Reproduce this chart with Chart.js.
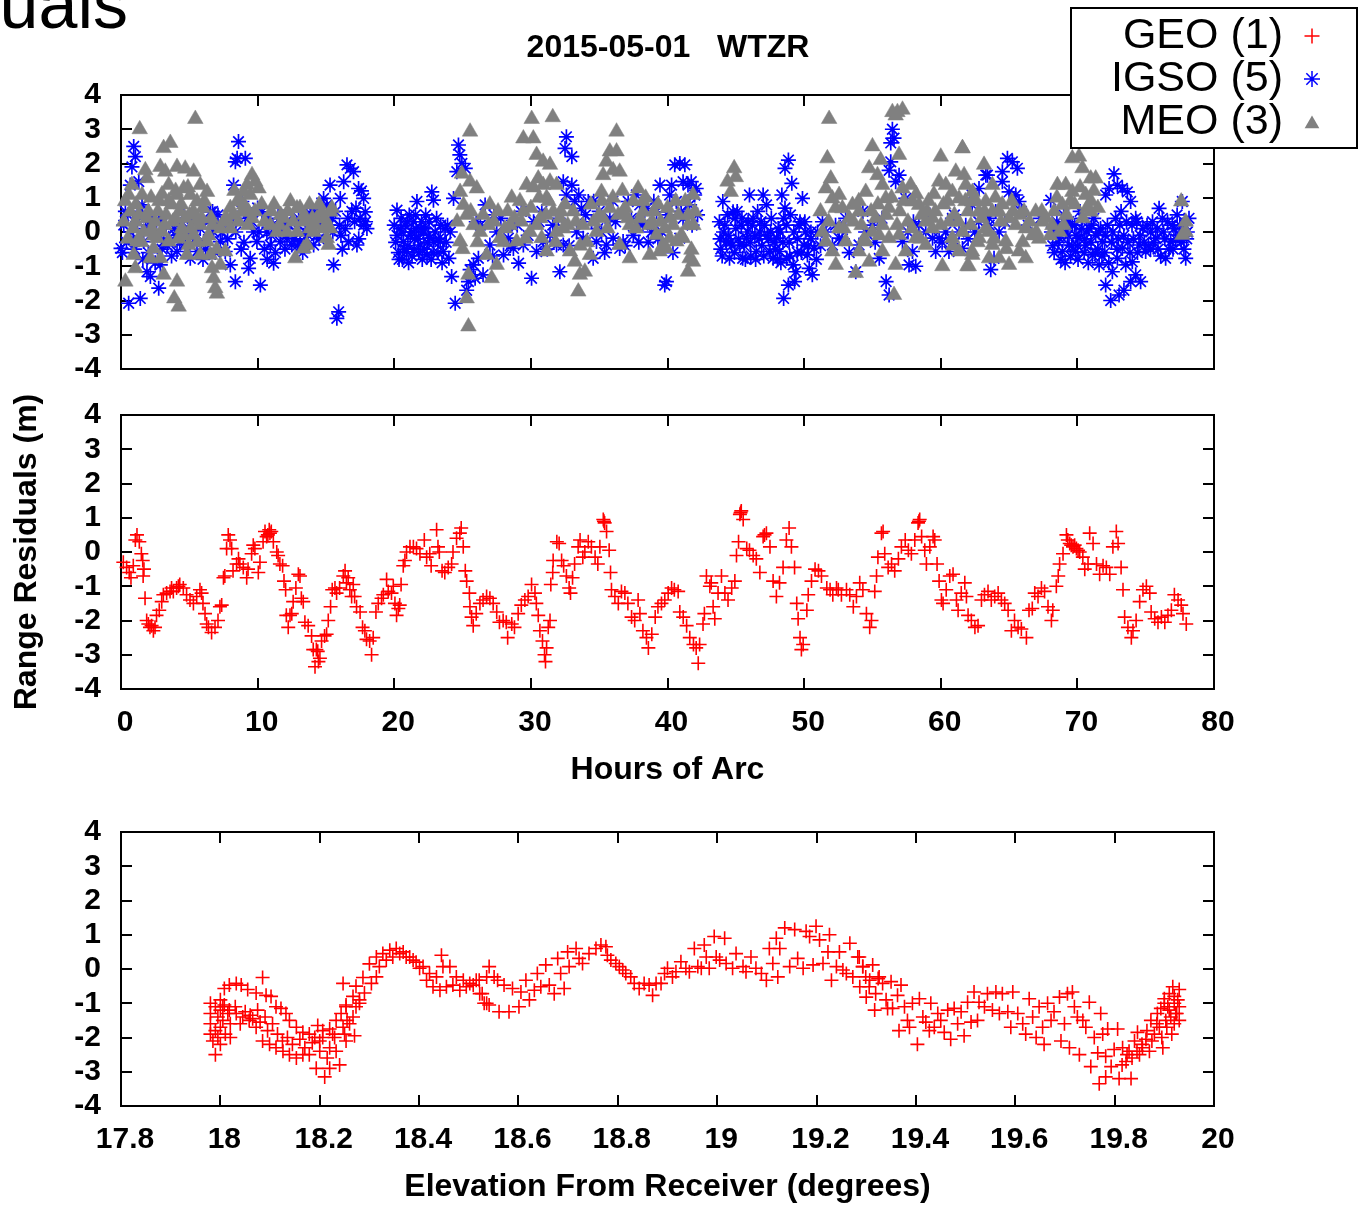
<!DOCTYPE html>
<html>
<head>
<meta charset="utf-8">
<title>Range Residuals - WTZR</title>
<script src="https://cdn.jsdelivr.net/npm/chart.js@4.4.1/dist/chart.umd.min.js"></script>
<style>
  html, body { margin: 0; padding: 0; background: #fff; }
  #wrap { position: relative; width: 1366px; height: 1207px; overflow: hidden; }
  #wrap canvas { position: absolute; left: 0; top: 0; }
</style>
</head>
<body>
<div id="wrap">
  <canvas id="arcChart" width="1366" height="1207"></canvas>
  <canvas id="geoChart" width="1366" height="1207"></canvas>
  <canvas id="elevChart" width="1366" height="1207"></canvas>
</div>
<script>
// ---- data: [hours of arc | elevation, range residual (m)] ----

const titleText = '2015-05-01   WTZR';
const seriesNames = ['GEO (1)', 'IGSO (5)', 'MEO (3)'];

const residualTicks = [-4, -3, -2, -1, 0, 1, 2, 3, 4];
const hourTicks = [0, 10, 20, 30, 40, 50, 60, 70, 80];
const elevTicks = [17.8, 18, 18.2, 18.4, 18.6, 18.8, 19, 19.2, 19.4, 19.6, 19.8, 20];

// GEO residuals against hours of arc
const geoArc = [
  [0.17,-0.3],[0.41,-0.45],[0.6,-0.6],[0.73,-0.75],[0.9,-0.4],[1.05,0.35],[1.17,0.5],[1.34,0.3],[1.49,-0.05],[1.59,-0.25],
  [1.68,-0.5],[1.62,-0.7],[1.76,-1.35],[1.88,-2.0],[2.0,-2.1],[2.12,-2.2],[2.24,-2.15],[2.37,-2.3],[2.49,-2.2],[2.6,-1.85],
  [2.8,-1.7],[2.98,-1.45],[3.1,-1.25],[3.34,-1.2],[3.59,-1.15],[3.83,-1.15],[4.07,-1.05],[4.3,-0.95],[4.56,-1.05],[4.8,-1.25],
  [5.05,-1.4],[5.3,-1.5],[5.54,-1.3],[5.78,-1.1],[5.9,-1.2],[6.0,-1.5],[6.15,-1.8],[6.27,-2.1],[6.4,-2.2],[6.63,-2.35],
  [6.88,-2.2],[7.1,-2.0],[7.24,-1.6],[7.37,-1.55],[7.5,-0.75],[7.6,-0.7],[7.73,0.1],[7.85,0.5],[7.98,0.35],[8.1,0.1],
  [8.2,-0.55],[8.46,-0.35],[8.6,-0.2],[8.7,-0.35],[8.95,-0.45],[9.2,-0.75],[9.3,-0.5],[9.56,-0.05],[9.68,0.2],[9.8,0.1],
  [10.05,-0.6],[10.17,-0.3],[10.4,0.3],[10.54,0.6],[10.66,0.45],[10.9,0.55],[11.0,0.6],[11.15,0.3],[11.4,0.0],[11.5,-0.1],
  [11.63,-0.35],[11.83,-0.4],[11.93,-0.85],[12.05,-1.1],[12.1,-1.85],[12.24,-2.2],[12.37,-1.85],[12.5,-1.8],[12.6,-1.45],[12.8,-1.05],
  [12.98,-0.65],[13.1,-0.7],[13.2,-1.35],[13.34,-1.45],[13.46,-2.05],[13.7,-2.15],[13.95,-2.45],[14.07,-2.85],[14.2,-3.35],[14.3,-2.85],
  [14.56,-3.1],[14.68,-2.6],[14.9,-2.45],[15.05,-2.4],[15.17,-2.0],[15.34,-1.6],[15.46,-1.1],[15.66,-1.05],[15.78,-1.2],[16.0,-1.05],
  [16.27,-0.7],[16.4,-0.55],[16.5,-0.9],[16.63,-0.75],[16.75,-1.1],[16.88,-1.3],[17.0,-0.95],[17.1,-1.3],[17.24,-1.6],[17.5,-1.75],
  [17.68,-2.2],[17.85,-2.3],[17.97,-2.55],[18.2,-2.6],[18.34,-3.0],[18.46,-2.5],[18.66,-1.75],[18.83,-1.5],[19.07,-1.35],[19.2,-1.25],
  [19.44,-0.8],[19.56,-1.15],[19.8,-1.2],[19.93,-1.0],[20.05,-1.5],[20.17,-1.85],[20.3,-1.65],[20.4,-1.55],[20.5,-0.95],[20.66,-0.4],
  [20.78,-0.25],[20.9,0.0],[21.15,0.15],[21.4,0.15],[21.63,0.1],[21.88,-0.05],[22.2,0.35],[22.37,-0.15],[22.6,-0.05],[22.7,-0.4],
  [23.1,0.65],[23.2,0.15],[23.3,0.0],[23.5,-0.55],[23.7,-0.6],[23.95,-0.45],[24.2,-0.35],[24.3,0.0],[24.56,0.4],[24.8,0.55],
  [24.9,0.7],[25.05,0.15],[25.2,-0.55],[25.3,-0.85],[25.5,-1.2],[25.54,-1.6],[25.66,-1.9],[25.78,-2.15],[26.0,-1.8],[26.27,-1.5],
  [26.5,-1.4],[26.76,-1.3],[27.0,-1.35],[27.24,-1.5],[27.5,-1.75],[27.7,-2.05],[27.97,-2.0],[28.2,-2.05],[28.3,-2.5],[28.6,-2.1],
  [28.8,-2.2],[29.07,-1.8],[29.3,-1.55],[29.56,-1.4],[29.8,-1.3],[30.05,-0.95],[30.3,-1.2],[30.4,-1.5],[30.54,-1.85],[30.66,-2.3],
  [30.85,-2.6],[31.0,-3.0],[31.07,-3.2],[31.15,-2.8],[31.27,-2.2],[31.4,-2.0],[31.46,-0.95],[31.6,-0.6],[31.63,-0.25],[31.9,0.3],
  [32.07,0.25],[32.25,-0.25],[32.4,-0.4],[32.6,-0.7],[32.8,-1.05],[32.9,-1.2],[33.05,-0.75],[33.2,-0.35],[33.46,0.15],[33.6,0.35],
  [33.8,-0.15],[33.95,0.0],[34.2,0.3],[34.43,0.15],[34.7,-0.15],[34.9,-0.35],[35.05,0.15],[35.3,0.95],[35.4,0.85],[35.54,0.6],
  [35.73,0.05],[35.83,-0.6],[35.9,-1.1],[36.15,-1.3],[36.4,-1.5],[36.63,-1.15],[36.88,-1.2],[37.1,-1.5],[37.37,-1.9],[37.6,-2.0],
  [37.85,-1.4],[37.98,-1.8],[38.2,-2.3],[38.46,-2.5],[38.6,-2.8],[38.85,-2.4],[39.1,-1.9],[39.3,-1.6],[39.56,-1.5],[39.8,-1.4],
  [40.05,-1.2],[40.3,-1.05],[40.5,-1.1],[40.78,-1.15],[40.9,-1.75],[41.15,-1.9],[41.4,-2.15],[41.63,-2.5],[41.9,-2.7],[42.1,-2.8],
  [42.25,-3.25],[42.35,-2.7],[42.6,-2.1],[42.7,-1.8],[42.85,-0.7],[43.1,-1.0],[43.2,-0.9],[43.34,-1.6],[43.46,-1.95],[43.7,-1.2],
  [43.95,-0.7],[44.2,-1.2],[44.43,-1.4],[44.7,-1.05],[44.93,-0.85],[45.05,-0.1],[45.2,0.3],[45.3,1.1],[45.4,1.2],[45.54,0.95],
  [45.8,0.1],[46.0,0.05],[46.27,-0.1],[46.5,-0.2],[46.76,-0.6],[47.0,0.45],[47.24,0.55],[47.5,0.15],[47.73,-0.85],[47.97,-1.3],
  [48.2,-0.9],[48.46,-0.45],[48.7,0.35],[48.9,0.7],[49.07,0.15],[49.3,-0.45],[49.46,-1.5],[49.56,-1.95],[49.7,-2.5],[49.8,-2.85],
  [49.93,-2.7],[50.2,-1.7],[50.3,-1.25],[50.54,-0.85],[50.8,-0.5],[51.05,-0.55],[51.27,-0.7],[51.66,-1.05],[51.9,-1.1],[52.1,-1.25],
  [52.37,-1.05],[52.5,-1.1],[52.73,-1.25],[53.1,-1.1],[53.34,-1.25],[53.6,-1.6],[53.83,-1.3],[54.07,-0.9],[54.3,-1.1],[54.56,-1.8],
  [54.8,-2.2],[54.93,-2.0],[55.17,-1.15],[55.3,-0.7],[55.4,-0.15],[55.66,0.55],[55.78,0.6],[55.9,-0.05],[56.15,-0.45],[56.4,-0.35],
  [56.63,-0.55],[56.9,-0.2],[57.12,0.15],[57.4,0.35],[57.63,0.05],[57.85,-0.05],[58.1,0.35],[58.34,0.85],[58.46,0.95],[58.6,0.45],
  [58.83,0.05],[58.95,-0.35],[59.2,0.15],[59.44,0.45],[59.56,0.35],[59.73,-0.35],[59.88,-0.85],[60.05,-1.4],[60.17,-1.5],[60.4,-1.1],
  [60.66,-0.7],[60.9,-0.65],[61.15,-1.4],[61.27,-1.7],[61.5,-1.2],[61.76,-0.9],[61.88,-1.3],[62.0,-1.85],[62.24,-2.0],[62.5,-2.2],
  [62.73,-2.15],[62.98,-1.4],[63.2,-1.25],[63.46,-1.15],[63.7,-1.4],[63.95,-1.3],[64.2,-1.2],[64.44,-1.4],[64.68,-1.5],[64.93,-1.7],
  [65.17,-2.3],[65.4,-2.0],[65.66,-2.2],[65.9,-2.25],[66.27,-2.5],[66.46,-1.7],[66.7,-1.65],[66.88,-1.2],[67.12,-1.3],[67.37,-1.05],
  [67.6,-1.15],[67.85,-1.6],[68.1,-2.0],[68.2,-1.7],[68.46,-1.0],[68.6,-0.7],[68.7,-0.35],[68.95,-0.05],[69.2,0.5],[69.44,0.25],
  [69.68,0.15],[69.93,0.1],[70.17,0.0],[70.4,-0.15],[70.54,-0.5],[70.78,-0.35],[70.9,0.55],[71.15,0.25],[71.4,-0.35],[71.63,-0.65],
  [71.88,-0.4],[72.12,-0.45],[72.37,-0.65],[72.6,0.15],[72.85,0.6],[72.98,0.25],[73.2,-0.45],[73.34,-1.1],[73.46,-1.9],[73.7,-2.2],
  [73.95,-2.5],[74.07,-2.3],[74.3,-2.0],[74.56,-1.45],[74.8,-1.1],[75.05,-1.0],[75.3,-1.2],[75.4,-1.75],[75.66,-1.95],[75.9,-2.05],
  [76.15,-1.9],[76.4,-2.05],[76.63,-1.85],[76.88,-1.7],[77.1,-1.25],[77.37,-1.4],[77.6,-1.55],[77.73,-1.8],[77.97,-2.1],
  [3.7,-1.05],[4.2,-1.0],[10.75,0.5],[10.85,0.65],[14.4,-2.9],[14.45,-3.2],[35.35,0.9],[45.35,1.15],[47.1,0.5],[58.4,0.9],
  [69.3,0.35],[69.55,0.2],[69.8,0.2],[70.05,0.05]
];

// GEO residuals against elevation (degrees)
const geoElev = [
  [17.98,-1.0],[17.98,-1.3],[17.98,-1.6],[17.98,-1.9],[17.985,-2.1],[17.99,-2.5],[17.99,-1.1],[17.99,-1.8],[17.995,-1.4],[17.995,-2.0],
  [18.0,-0.9],[18.0,-1.2],[18.0,-1.7],[18.0,-2.2],[18.005,-1.5],[18.008,-1.05],[18.01,-1.9],[18.015,-1.3],[18.02,-1.6],[18.02,-2.0],
  [18.008,-0.57],[18.018,-0.47],[18.032,-0.42],[18.042,-0.47],[18.055,-0.6],[18.072,-0.7],[18.085,-0.25],[18.092,-0.77],[18.102,-0.8],[18.112,-1.1],
  [18.122,-1.15],[18.132,-1.3],[18.139,-1.5],[18.153,-1.7],[18.166,-1.85],[18.179,-1.9],[18.196,-1.65],[18.206,-1.8],[18.22,-1.75],[18.233,-1.5],
  [18.243,-1.3],[18.253,-1.1],[18.267,-0.8],[18.273,-0.5],[18.287,-0.25],[18.3,0.15],[18.314,0.35],[18.327,0.45],[18.341,0.55],[18.354,0.6],
  [18.368,0.5],[18.381,0.35],[18.394,0.2],[18.408,0.07],[18.421,-0.13],[18.435,-0.23],[18.448,0.07],[18.445,0.4],[18.462,0.07],[18.475,-0.23],
  [18.489,-0.33],[18.502,-0.42],[18.515,-0.33],[18.536,-0.23],
  [18.005,-1.1],[18.018,-1.2],[18.032,-1.3],[18.045,-1.4],[18.058,-1.5],[18.072,-1.7],[18.085,-2.1],[18.099,-2.2],[18.112,-2.3],[18.126,-2.4],
  [18.139,-2.5],[18.153,-2.6],[18.166,-2.5],[18.179,-2.5],[18.193,-2.9],[18.21,-3.15],[18.22,-2.9],[18.24,-2.8],[18.233,-2.4],[18.22,-2.3],
  [18.206,-2.0],[18.2,-2.1],[18.226,-1.9],[18.247,-1.7],[18.253,-2.1],[18.27,-1.95],[18.26,-1.6],[18.267,-1.4],[18.273,-1.1],[18.28,-0.9],
  [18.29,-0.7],[18.304,-0.42],[18.314,-0.23],[18.32,0.07],[18.334,0.26],[18.347,0.35],[18.361,0.45],[18.374,0.35],[18.388,0.26],[18.401,0.02],
  [18.415,-0.33],[18.428,-0.52],[18.442,-0.62],[18.455,-0.52],[18.468,-0.47],[18.482,-0.62],[18.495,-0.52],[18.509,-0.47],[18.522,-0.72],[18.536,-1.0],
  [18.247,-0.42],[18.253,-1.05],[18.28,-1.0],
  [18.03,-1.1],[18.04,-1.6],[18.05,-1.25],[18.06,-1.35],[18.065,-1.45],[18.075,-1.2],[18.08,-1.55],[18.09,-1.4],[18.095,-1.8],[18.105,-1.6],
  [18.115,-1.9],[18.125,-2.1],[18.135,-2.0],[18.145,-2.2],[18.16,-2.05],[18.17,-2.3],[18.185,-2.15],[18.19,-2.0],[18.2,-2.4],[18.215,-2.6],
  [18.23,-2.0],[18.25,-1.9],[18.255,-1.5],
  [18.521,-0.33],[18.527,-0.72],[18.531,-1.0],[18.541,0.07],[18.541,-1.05],[18.551,-0.23],[18.558,-0.33],[18.561,-1.25],[18.571,-0.47],[18.581,-1.25],
  [18.588,-0.57],[18.601,-1.1],[18.605,-0.67],[18.615,-0.33],[18.622,-0.9],[18.632,-0.62],[18.638,-0.13],[18.645,-0.52],[18.655,0.12],[18.662,-0.47],
  [18.672,-0.72],[18.679,0.31],[18.685,-0.13],[18.692,-0.57],[18.699,0.5],[18.702,0.07],[18.716,0.6],[18.722,0.31],[18.729,0.16],[18.742,0.45],
  [18.756,0.6],[18.766,0.7],[18.776,0.65],[18.779,0.4],[18.786,0.26],[18.796,0.16],[18.803,0.07],[18.81,-0.03],[18.816,-0.13],[18.826,-0.23],
  [18.833,-0.42],[18.843,-0.57],[18.853,-0.42],[18.863,-0.47],[18.87,-0.77],[18.877,-0.42],[18.887,-0.42],[18.894,-0.13],[18.9,0.02],[18.91,-0.23],
  [18.917,-0.08],[18.927,0.21],[18.937,0.02],[18.944,-0.08],[18.954,0.6],[18.961,0.07],[18.968,0.02],[18.974,0.7],[18.978,0.35],[18.984,0.02],
  [18.994,0.95],[18.998,0.35],[19.005,0.26],[19.015,0.9],[19.018,0.16],[19.031,0.02],[19.038,0.45],[19.052,0.07],[19.058,-0.08],[19.068,0.35],
  [19.078,0.02],[19.089,-0.13],[19.099,-0.33],[19.105,0.6],[19.112,0.16],[19.119,0.9],[19.122,-0.23],[19.126,0.6],[19.136,1.2],[19.146,0.07],
  [19.156,1.15],[19.162,0.31],[19.173,0.02],[19.179,1.1],[19.186,0.95],[19.193,0.12],[19.199,1.25],[19.206,0.85],[19.213,0.16],[19.223,0.5],
  [19.226,1.0],[19.23,-0.33],[19.24,0.07],[19.246,0.5],[19.253,-0.03],[19.26,-0.13],[19.267,0.75],[19.273,-0.23],[19.283,0.35],[19.287,-0.52],
  [19.293,0.07],[19.3,-0.82],[19.307,-0.33],[19.317,-1.2],[19.324,-0.28],
  [19.286,0.35],[19.293,0.07],[19.299,-0.23],[19.306,-0.52],[19.313,0.12],[19.319,-0.72],[19.326,-0.23],[19.333,-0.42],[19.34,-0.9],[19.343,-1.15],
  [19.35,-0.37],[19.353,-1.15],[19.363,-0.77],[19.37,-0.47],[19.366,-1.8],[19.377,-1.1],[19.383,-1.5],[19.387,-1.7],[19.393,-1.0],[19.403,-2.2],
  [19.407,-0.87],[19.414,-1.4],[19.42,-1.55],[19.427,-1.8],[19.43,-1.0],[19.437,-1.7],[19.444,-1.3],[19.45,-1.5],[19.457,-1.85],[19.464,-1.2],
  [19.47,-2.05],[19.477,-1.15],[19.484,-1.6],[19.491,-1.25],[19.497,-1.95],[19.504,-0.97],[19.511,-1.55],[19.517,-0.67],[19.524,-1.5],[19.527,-0.97],
  [19.538,-1.1],[19.544,-0.72],[19.554,-1.2],[19.561,-0.67],[19.568,-1.3],[19.574,-0.72],[19.585,-1.25],[19.591,-1.7],[19.595,-0.67],[19.605,-1.3],
  [19.615,-1.6],[19.621,-1.9],[19.628,-0.87],[19.635,-1.4],[19.642,-2.0],[19.648,-1.1],[19.655,-1.7],[19.658,-2.2],[19.665,-1.0],[19.672,-1.5],
  [19.678,-1.25],[19.689,-0.82],[19.692,-2.1],[19.699,-1.6],[19.705,-0.72],[19.709,-2.3],[19.715,-0.67],[19.719,-1.1],[19.725,-1.4],[19.729,-2.5],
  [19.736,-1.5],[19.742,-1.7],[19.749,-0.97],[19.752,-2.85],[19.759,-2.0],[19.766,-2.45],[19.772,-1.3],[19.776,-1.9],[19.782,-2.55],[19.786,-1.75],
  [19.769,-3.35],[19.782,-3.15],[19.793,-2.85],[19.799,-2.35],[19.806,-1.75],[19.809,-3.2],[19.816,-2.3],[19.823,-2.7],[19.833,-3.2],[19.829,-2.4],
  [19.84,-2.1],[19.846,-1.85],[19.85,-2.5],[19.856,-2.3],[19.863,-2.05],[19.87,-2.4],[19.873,-1.5],[19.88,-1.9],[19.886,-1.3],[19.89,-1.7],
  [19.893,-1.15],[19.897,-2.3],[19.9,-0.87],[19.903,-1.5],[19.907,-1.1],[19.91,-0.72],[19.913,-1.4],[19.917,-0.52],[19.92,-1.0],[19.923,-1.3],
  [19.927,-0.9],[19.93,-1.5],
  [19.9,-1.0],[19.91,-1.2],[19.92,-0.8],[19.92,-1.6],[19.925,-1.3],[19.915,-1.9],[19.905,-1.7],[19.895,-2.0],[19.885,-1.6],[19.875,-2.1],
  [19.865,-1.8],[19.855,-2.2],[19.845,-2.4],[19.835,-2.6],[19.825,-2.5],[19.815,-2.8],[19.93,-1.1],[19.93,-0.6]
];

// IGSO residuals against hours of arc
const igsoArc = [
  [0.0,-0.48],[0.1,-0.6],[0.56,-2.08],[0.93,2.5],[1.05,2.2],[0.8,1.9],[1.3,1.47],[0.68,1.37],[0.32,0.6],[1.41,-1.94],
  [1.54,0.79],[1.66,-0.28],[1.9,-1.16],[2.15,-1.3],[2.76,-1.64],[2.88,-0.96],[3.12,-0.28],[3.5,-0.18],[4.1,-0.57],[4.46,0.3],
  [4.7,-0.38],[5.07,-0.77],[5.56,-0.57],[6.05,-0.28],[6.54,0.59],[6.78,0.0],[7.0,0.2],[7.27,-0.28],[7.63,-0.57],[8.0,-0.96],
  [8.37,-1.45],[8.24,1.37],[8.37,2.05],[8.6,2.64],[8.5,2.15],[8.85,0.89],[9.1,2.15],[9.22,0.4],[9.34,-1.06],[9.46,-0.77],
  [9.7,0.0],[9.95,-0.28],[10.2,-1.55],[10.32,0.59],[10.68,0.0],[10.93,-0.38],[11.17,-0.91],[11.41,0.2],[11.66,-0.28],[11.9,0.0],
  [12.15,-0.18],[12.5,-0.38],[12.88,0.1],[13.1,-0.28],[13.49,0.0],[13.85,0.3],[14.1,-0.38],[14.34,0.59],[14.59,0.2],[14.83,0.98],
  [15.07,0.79],[15.3,1.37],[15.44,0.4],[15.56,-0.96],[15.8,-2.52],[15.93,-2.33],[16.05,0.98],[16.3,1.47],[16.42,0.1],[16.54,1.96],
  [16.66,-0.28],[16.78,1.86],[17.02,1.76],[17.27,-0.38],[17.39,1.27],[17.5,0.4],[17.76,0.98],[17.88,0.59],[18.0,0.1],[17.76,0.2],
  [0.2,0.2],[0.4,-0.3],[0.7,0.0],[1.0,-0.5],[1.2,0.3],[1.6,-0.8],[1.8,0.1],[2.0,-0.6],[2.3,0.4],[2.5,-0.9],
  [2.6,0.0],[3.0,-0.5],[3.3,0.2],[3.7,-0.7],[3.9,0.1],[4.3,-0.3],[4.9,0.0],[5.2,0.4],[5.4,-0.2],[5.8,0.1],
  [6.2,-0.5],[6.4,0.3],[6.9,-0.6],[7.1,0.5],[7.4,0.0],[7.8,-0.2],[8.1,0.3],[8.8,-0.5],[9.0,0.6],[9.6,0.3],
  [10.0,0.7],[10.5,-0.5],[10.8,0.4],[11.0,-0.1],[11.3,-0.6],[11.8,0.3],[12.0,-0.5],[12.3,0.2],[12.7,-0.2],[13.0,0.4],
  [13.3,-0.6],[13.7,-0.1],[14.0,0.6],[14.5,-0.2],[14.7,0.5],[15.2,0.2],[15.7,0.6],[16.0,0.2],[16.2,-0.5],[16.9,0.6],
  [17.1,0.3],[17.6,1.2],
  [0.5,0.5],[0.9,-0.2],[1.4,0.6],[2.1,0.2],[2.9,0.4],[3.4,-0.4],[4.0,-0.1],[4.6,0.5],[5.6,0.2],[6.0,-0.8],
  [6.7,0.6],[7.6,0.3],[8.4,0.0],[9.0,-0.3],[10.1,0.0],[10.7,-0.8],[11.5,0.5],[12.1,0.3],[12.9,-0.4],[13.6,0.5],
  [14.3,-0.1],[15.0,0.3],[15.5,0.0],[16.1,-0.1],[16.6,0.4],[17.2,0.7],[17.4,-0.2],[17.9,0.3],
  [20.2,0.64],[20.44,0.1],[20.68,-0.28],[20.9,-0.57],[21.17,-0.09],[21.4,0.3],[21.66,0.89],[21.9,-0.38],[22.14,0.0],[22.4,-0.67],
  [22.6,-0.18],[22.75,1.17],[22.87,0.93],[23.1,0.4],[23.36,-0.28],[23.6,-0.57],[23.72,0.1],[24.0,-0.77],[24.2,-1.3],[24.46,-2.08],
  [24.7,2.54],[24.8,2.25],[24.95,2.0],[24.58,1.76],[25.2,1.86],[24.34,0.98],[25.3,-1.7],[25.43,-1.45],[25.55,-1.1],[25.8,-0.96],
  [25.92,-1.35],[26.16,-0.77],[26.5,-1.25],[26.65,0.79],[27.0,-0.38],[27.5,0.0],[28.0,-0.67],[28.35,-0.18],[28.72,-0.48],[29.1,-0.91],
  [29.45,-0.38],[30.05,-1.35],[30.42,-0.57],[30.9,-0.28],[31.4,-0.09],[31.88,-0.38],[32.12,-1.16],[32.37,-0.38],[32.5,2.44],[32.6,2.78],
  [33.0,2.2],[32.37,1.47],[32.6,1.08],[33.0,1.37],[33.2,0.89],[33.5,1.08],[33.7,0.69],[33.35,0.0],[33.83,-0.18],[34.2,0.89],
  [34.44,0.3],[34.56,-0.77],[34.8,-0.28],[35.17,0.0],[35.53,-0.38],[35.78,0.4],[36.02,-0.18],[36.5,-0.48],[36.75,-0.28],[37.12,0.89],
  [37.36,0.4],[37.72,1.08],[37.97,0.79],[38.2,0.2],[38.46,0.69],[38.83,0.0],[39.2,0.59],[39.45,1.37],[39.8,-1.55],[39.92,-1.45],
  [40.3,1.37],[40.53,1.96],[40.9,2.0],[41.27,1.96],[41.14,1.47],[41.5,1.37],[41.74,1.47],[41.99,1.08],[42.1,1.27],[41.62,0.79],
  [40.65,0.89],[40.16,1.08],[40.9,-0.18],[41.14,0.4],
  [20.1,-0.3],[20.3,-0.6],[20.5,0.4],[20.6,-0.8],[20.8,0.2],[21.0,-0.4],[21.1,0.5],[21.3,-0.7],[21.5,-0.2],[21.6,0.1],
  [21.8,-0.6],[22.0,0.3],[22.2,-0.5],[22.3,0.5],[22.5,-0.1],[22.7,-0.8],[22.9,-0.3],[23.2,-0.6],[23.4,0.2],[23.8,-0.3],
  [24.1,0.0],[26.0,0.3],[27.2,-0.7],[27.8,0.4],[28.5,-0.4],[29.0,0.2],[29.8,-0.1],[30.6,0.3],[31.2,-0.5],[31.6,0.2],
  [32.8,-0.4],[34.0,0.5],[34.6,0.9],[35.0,0.6],[35.4,-0.6],[36.2,0.3],[36.9,-0.4],[37.5,-0.1],[38.0,0.3],[38.6,-0.3],
  [39.0,0.9],[39.6,0.0],[40.0,0.5],[41.0,0.6],[41.8,0.2],[42.2,0.5],
  [20.0,0.2],[20.2,-0.1],[20.35,-0.8],[20.55,0.0],[20.75,-0.5],[20.95,0.3],[21.05,-0.9],[21.25,0.0],[21.45,-0.5],[21.55,0.5],
  [21.75,-0.2],[21.95,0.1],[22.05,-0.8],[22.25,0.1],[22.45,-0.3],[22.55,0.3],[22.85,-0.6],[23.0,0.0],[23.25,-0.2],[23.5,-0.9],
  [23.9,0.2],[26.3,0.2],[27.3,0.5],[28.6,0.2],[29.3,0.6],[30.2,0.3],[30.8,0.6],[32.0,0.4],[34.9,0.1],[36.0,0.9],
  [37.9,-0.3],[39.3,-0.2],[40.4,-0.6],
  [43.8,0.3],[44.05,0.89],[44.3,-0.28],[44.54,-0.77],[44.8,0.59],[45.0,0.1],[45.3,-0.38],[45.5,-0.77],[45.78,-0.18],[46.0,1.08],
  [46.27,0.4],[46.5,-0.57],[46.76,0.0],[47.0,1.08],[47.25,0.79],[47.5,-0.57],[47.73,-0.77],[48.0,-0.18],[48.2,-0.57],[48.37,1.08],
  [48.5,0.4],[48.6,1.86],[48.85,2.1],[48.73,-0.77],[49.1,1.42],[49.2,-0.96],[48.5,-1.94],[48.85,-1.55],[49.3,-1.45],[49.4,-1.16],
  [49.63,0.2],[49.88,0.98],[50.0,-0.38],[50.24,-0.67],[50.37,-1.06],[50.6,-1.25],[50.73,-0.48],[50.98,0.0],[51.34,0.3],[51.6,0.0],
  [52.07,-0.38],[52.56,-0.18],[53.04,0.4],[53.78,-1.16],[54.02,-0.38],[54.5,0.0],[55.0,0.2],[55.5,-0.77],[56.0,-1.45],[56.22,-1.84],
  [56.34,2.6],[56.46,3.0],[56.58,2.74],[56.22,1.8],[56.34,2.05],[56.7,1.47],[56.95,1.66],[57.2,-0.28],[57.44,0.98],[57.68,-0.96],
  [57.93,-0.57],[58.17,-1.0],[58.4,0.2],[58.9,0.0],[59.4,-0.18],[59.63,-0.57],[59.88,-0.18],[60.37,0.0],[60.6,-0.57],[60.85,0.4],
  [61.34,0.0],[61.83,0.2],[62.3,0.79],[62.8,1.27],[63.3,1.66],[63.54,0.2],[63.66,-1.1],
  [43.9,-0.5],[44.1,0.0],[44.4,0.5],[44.6,-0.3],[44.9,-0.6],[45.1,0.6],[45.4,0.2],[45.6,-0.4],[45.9,0.3],[46.1,-0.7],
  [46.4,-0.1],[46.6,0.6],[46.9,-0.4],[47.1,0.2],[47.4,-0.2],[47.6,0.4],[47.9,-0.5],[48.1,0.1],[48.3,-0.9],[48.6,0.7],
  [48.9,-0.3],[49.0,0.5],[49.5,-0.6],[49.7,0.3],[50.1,0.0],[50.5,-0.2],[50.9,-0.8],[51.2,-0.4],[52.3,0.2],[53.3,-0.6],
  [55.2,-0.3],[58.0,0.3],[60.1,-0.3],[61.0,0.5],[62.0,-0.2],
  [43.85,-0.2],[44.0,-0.7],[44.2,0.2],[44.45,-0.1],[44.7,-0.4],[44.95,0.4],[45.2,-0.2],[45.45,0.4],[45.7,-0.8],[45.85,0.0],
  [46.05,-0.3],[46.2,0.2],[46.45,-0.8],[46.7,-0.2],[46.85,0.3],[47.05,-0.7],[47.3,-0.1],[47.55,0.0],[47.8,-0.3],[48.05,-0.8],
  [48.25,0.0],[48.45,-0.3],[48.7,0.2],[48.95,-0.7],[49.25,0.0],[49.5,-0.2],[49.8,-0.6],[50.05,0.3],[50.3,-0.4],[50.5,0.0],
  [52.8,-0.2],[54.3,0.6],[55.7,0.4],[57.6,0.0],[59.2,0.5],[60.8,-0.2],[62.5,0.0],[64.7,0.3],[65.9,0.6],[66.4,0.2],
  [67.3,0.4],
  [63.42,1.66],[64.51,1.76],[64.88,2.15],[65.24,2.05],[65.61,1.86],[64.51,1.47],[65.0,1.17],[65.49,1.08],[65.73,0.89],[62.29,1.08],
  [62.78,0.3],[63.54,0.4],[64.02,0.6],[64.27,0.0],[63.9,-0.77],[61.59,-0.48],
  [68.05,0.93],[68.41,0.1],[68.66,-0.18],[68.9,-0.57],[69.15,0.0],[69.39,-0.38],[69.63,0.2],[69.88,-0.57],[70.12,-0.18],[70.37,0.4],
  [70.61,-0.38],[70.85,0.1],[71.1,-0.67],[71.34,-0.09],[71.59,-0.96],[71.83,-0.28],[72.07,1.08],[72.32,1.27],[72.68,1.7],[72.93,1.37],
  [73.29,1.27],[73.66,1.17],[73.9,0.89],[74.27,0.4],[72.07,-1.55],[72.44,-2.0],[73.05,-1.84],[73.41,-1.7],[73.9,-1.45],[74.27,-1.25],
  [74.63,-1.45],[72.56,-1.16],[72.93,-0.77],[73.29,-0.48],[73.54,-0.96],[74.02,-0.87],[74.51,-0.38],[75.0,-0.57],[75.37,0.0],[75.73,-0.18],
  [75.98,0.69],[76.22,0.4],[76.46,-0.77],[76.83,-0.28],[77.07,0.1],[77.44,-0.09],[77.68,0.89],[77.93,-0.77],[78.05,0.0],[78.17,0.4],
  [68.2,-0.4],[68.5,0.3],[68.8,-0.8],[69.0,0.5],[69.3,-0.1],[69.5,-0.7],[69.8,0.2],[70.0,-0.4],[70.2,0.6],[70.5,-0.6],
  [70.7,0.0],[71.0,-0.3],[71.2,0.4],[71.5,-0.5],[71.7,0.1],[72.0,-0.6],[72.2,0.2],[72.5,-0.3],[72.8,0.4],[73.0,-0.2],
  [73.2,0.6],[73.7,-0.3],[74.0,0.2],[74.4,-0.6],[74.8,0.1],[75.2,-0.4],[75.5,0.3],[75.9,-0.5],[76.3,0.0],[76.6,0.3],
  [77.0,-0.5],[77.3,0.5],[77.6,-0.3],[77.9,0.2],
  [68.1,0.0],[68.3,-0.6],[68.6,-0.3],[68.85,0.2],[69.1,-0.9],[69.35,0.3],[69.6,-0.4],[69.9,-0.1],[70.05,-0.8],[70.3,0.1],
  [70.55,-0.2],[70.8,-0.9],[71.05,0.2],[71.3,-0.6],[71.55,0.0],[71.8,-0.7],[72.05,-0.1],[72.3,-0.9],[72.6,0.0],[72.9,-0.5],
  [73.1,0.2],[73.4,-0.1],[73.6,0.3],[73.85,-0.6],[74.1,-0.2],[74.35,0.3],[74.6,-0.1],[74.9,-0.3],[75.1,0.2],[75.35,-0.5],
  [75.6,-0.3],[75.85,0.1],[76.1,-0.7],[76.4,-0.2],[76.7,-0.5],[76.95,0.2],[77.2,-0.2],[77.5,0.2],[77.8,-0.5],[78.0,-0.2]
];

// MEO residuals against hours of arc
const meoArc = [
  [1.37,3.0],[5.44,3.3],[3.61,2.6],[3.12,2.45],[2.88,1.9],[4.1,1.9],[4.7,1.85],[5.32,1.76],[1.78,1.8],[1.9,1.57],
  [3.24,1.76],[5.8,1.37],[6.3,1.17],[3.49,1.37],[4.1,1.08],[4.59,1.27],[5.07,1.08],[5.56,0.89],[1.54,1.08],[0.8,1.37],
  [0.56,1.08],[0.68,0.59],[1.05,0.3],[1.66,0.0],[2.27,0.1],[2.63,-0.18],[3.0,0.0],[3.49,-0.28],[3.98,0.4],[4.46,0.1],
  [4.95,-0.38],[5.32,-0.09],[5.8,0.2],[6.3,-0.28],[6.54,-0.67],[6.66,-1.06],[6.78,-1.35],[6.9,-1.64],[7.02,-1.8],[7.27,-0.96],
  [7.63,-0.57],[8.0,0.1],[8.49,0.89],[8.98,1.17],[9.22,1.37],[9.59,1.66],[9.83,1.47],[10.07,1.27],[9.46,1.08],[8.85,0.59],
  [9.34,0.59],[1.17,-0.28],[0.93,-0.67],[0.32,-1.45],[1.05,-1.06],[3.12,-1.25],[2.88,-0.77],[4.1,-1.45],[3.9,-1.94],[4.22,-2.18],
  [2.39,-0.48],[2.15,-0.77],[4.83,-0.67],[5.8,-0.67],[12.4,0.89],[12.88,0.69],[13.37,0.3],[13.85,0.1],[14.34,0.4],[14.71,0.59],
  [15.07,0.2],[15.32,0.59],[15.44,0.69],[15.07,-0.18],[15.2,-0.38],[12.76,-0.77],[13.37,-0.48],[13.61,-0.38],[11.9,0.4],[11.41,0.0],
  [10.93,0.2],[12.15,0.0],[12.88,0.0],[14.1,0.0],[14.83,0.1],
  [0.2,0.3],[0.5,-0.2],[1.3,0.5],[2.0,0.6],[2.5,0.3],[2.8,0.9],[3.3,0.5],[3.7,0.8],[4.3,0.6],[4.6,-0.1],
  [5.0,0.5],[5.5,0.3],[6.0,0.7],[6.6,0.4],[7.5,0.3],[8.2,0.5],[8.7,0.9],[9.6,0.4],[10.3,0.8],[11.0,0.6],
  [11.7,0.5],[12.6,0.3],[13.1,0.7],[14.0,0.4],[14.5,0.8],
  [0.3,0.9],[0.9,0.1],[1.1,0.8],[1.5,-0.3],[1.9,0.4],[2.2,1.0],[2.4,-0.1],[2.7,0.6],[3.0,1.1],[3.2,0.2],
  [3.5,0.9],[3.8,0.3],[4.0,1.2],[4.2,-0.2],[4.4,0.8],[4.7,0.4],[4.9,1.3],[5.1,0.1],[5.3,0.6],[5.6,-0.3],
  [5.9,0.4],[6.1,0.9],[6.4,-0.1],[6.7,0.2],[7.0,-0.5],[7.3,0.1],[7.7,0.4],[8.0,0.7],[8.3,1.2],[8.6,0.3],
  [9.0,0.8],[9.3,0.2],[9.8,0.6],[10.5,0.3],[11.2,0.8],[11.6,0.2],[12.2,0.6],[13.4,0.5],[13.8,0.8],[14.2,0.2],
  [14.9,0.4],[15.3,0.1],
  [25.43,-2.76],[25.55,2.93],[24.95,1.7],[25.55,1.47],[26.04,1.27],[24.82,1.17],[25.07,0.79],[25.3,-1.94],[25.43,-1.25],[25.3,0.5],
  [25.8,0.2],[26.28,0.0],[24.82,-0.28],[26.77,-0.67],[27.13,-1.35],[27.5,-0.96],[27.74,-0.18],[28.1,0.1],[28.47,0.2],[28.96,-0.28],
  [29.45,0.59],[29.69,1.37],[30.06,3.3],[30.18,2.73],[29.45,2.73],[30.42,2.25],[30.9,2.05],[31.6,3.35],[31.4,1.96],[30.54,1.56],
  [30.9,1.37],[31.4,1.47],[31.88,1.37],[31.15,1.0],[31.64,0.59],[32.13,0.4],[29.94,0.0],[30.42,0.2],[30.79,-0.18],[31.15,-0.57],
  [31.88,0.0],[32.37,0.1],[32.86,-0.57],[33.22,-0.87],[33.59,-1.25],[33.47,-1.74],[33.95,-1.16],[34.32,-0.67],[34.8,0.0],[35.29,0.4],
  [35.78,0.69],[36.27,2.93],[35.78,2.35],[36.27,2.35],[35.53,2.05],[35.29,1.66],[36.02,1.8],[36.5,1.76],[35.17,1.17],[36.75,0.59],
  [37.24,0.2],[37.85,1.27],[38.21,0.59],[38.7,0.2],[39.19,-0.09],[39.67,-0.38],[40.16,-0.18],[40.65,-0.28],[41.14,-0.18],[41.62,-0.77],
  [41.75,-0.52],[41.87,-0.87],[41.5,-1.16],[41.5,0.2],[41.87,1.08],[42.0,0.59],[37.24,-0.77],[38.7,-0.67],[39.43,-0.57],[39.92,-0.48],
  [36.5,-0.38],
  [26.5,0.5],[27.0,0.8],[27.3,0.3],[28.3,0.6],[28.8,0.4],[29.2,0.9],[30.0,0.7],[30.6,1.0],[31.1,0.5],[32.5,0.8],
  [33.1,0.6],[33.8,0.2],[34.4,0.8],[35.0,0.5],[36.0,1.0],[36.9,0.7],[37.5,0.9],[38.0,0.4],[38.4,1.0],[39.0,0.6],
  [39.5,0.3],[40.0,0.7],[40.4,0.2],[40.8,0.5],[41.3,0.9],
  [24.6,0.3],[25.0,-0.5],[25.6,0.6],[26.1,-0.3],[26.9,0.2],[27.6,0.6],[28.0,-0.3],[28.6,1.0],[29.3,0.3],[29.6,-0.2],
  [30.2,1.3],[30.7,0.4],[31.3,0.9],[31.8,-0.3],[32.2,0.6],[32.7,0.2],[33.3,0.3],[33.6,-0.4],[34.1,-0.3],[34.6,0.3],
  [35.2,0.9],[35.6,0.1],[36.4,0.5],[36.7,1.2],[37.1,0.4],[37.7,0.1],[38.2,0.9],[38.9,0.3],[39.3,0.8],[39.8,0.1],
  [40.2,0.4],[40.6,0.9],[41.0,-0.1],[41.5,0.5],[41.9,0.2],
  [44.88,1.86],[45.0,1.6],[44.39,1.47],[44.63,1.17],[51.83,3.3],[51.7,2.15],[55.0,2.5],[55.6,2.1],[56.46,3.5],[56.83,3.5],
  [57.2,3.57],[56.7,3.4],[60.0,2.2],[61.59,2.45],[63.17,1.96],[61.1,1.76],[61.71,1.66],[51.95,1.56],[51.59,1.27],[52.07,0.98],
  [52.56,1.08],[52.8,0.69],[53.54,0.79],[54.02,0.59],[54.51,1.17],[54.76,1.86],[55.37,1.66],[55.73,1.37],[55.98,0.98],[55.24,0.4],
  [55.73,0.2],[56.95,2.25],[57.2,1.27],[57.8,1.37],[57.93,0.89],[58.41,0.79],[58.9,0.3],[59.39,0.4],[59.88,1.47],[60.37,1.37],
  [60.85,1.17],[61.34,0.98],[61.83,1.37],[62.32,1.17],[63.29,0.89],[63.78,0.59],[51.34,0.0],[51.59,-0.28],[52.07,-0.57],[52.32,-0.96],
  [52.56,0.1],[53.05,-0.28],[53.78,-1.2],[54.02,-0.57],[54.51,-0.28],[54.76,-0.87],[55.0,0.0],[55.73,-0.57],[56.22,-0.18],[56.58,-1.84],
  [56.7,-0.96],[56.95,-0.09],[57.44,-0.57],[58.17,-0.18],[58.9,-0.38],[59.39,0.1],[60.12,-1.0],[60.85,-0.18],[61.34,-0.57],[61.95,-1.0],
  [62.32,-0.67],[62.8,-0.18],[63.29,0.1],[63.78,-0.38],[64.27,-0.77],
  [53.3,0.4],[54.2,0.2],[55.4,0.8],[56.0,0.5],[56.4,1.0],[57.0,0.6],[57.6,0.3],[58.2,1.1],[58.6,0.5],[59.1,0.9],
  [59.6,0.6],[60.2,0.8],[60.6,0.3],[61.0,0.5],[61.6,0.0],[62.0,0.6],[62.6,0.9],[63.0,0.4],[63.5,0.0],
  [51.2,0.6],[51.8,0.3],[52.3,0.7],[52.9,0.1],[53.6,0.3],[54.0,0.9],[54.4,-0.2],[54.9,0.6],[55.5,-0.1],[56.2,0.7],
  [56.8,0.2],[57.3,0.9],[57.9,0.1],[58.5,-0.2],[59.0,0.6],[59.5,1.1],[60.0,0.2],[60.5,0.9],[60.9,-0.4],[61.3,0.3],
  [61.8,0.9],[62.2,0.2],[62.7,-0.3],[63.2,0.6],[63.9,-0.2],[64.4,0.3],[64.8,-0.5],[65.3,0.6],[66.1,0.6],[66.7,-0.1],
  [67.4,0.6],[68.0,-0.1],[68.5,1.0],[69.0,0.2],[69.5,0.9],[70.2,1.3],[70.7,0.7],[71.2,1.2],
  [61.59,2.44],[63.78,1.37],[62.29,0.89],[62.78,0.59],[64.27,0.59],[65.0,0.4],[65.49,0.2],[66.22,0.1],[66.95,0.59],[67.44,0.3],
  [68.17,0.2],[64.76,-0.28],[65.73,-0.57],[66.22,-0.77],[65.0,-0.96],[63.54,-0.77],[62.05,-1.0],[62.29,-0.57],[69.63,2.15],[70.12,2.2],
  [70.37,1.86],[70.98,1.56],[71.34,1.56],[68.54,1.37],[69.15,1.37],[69.63,1.17],[70.61,1.08],[68.9,0.79],[70.98,0.59],[77.6,0.89],
  [77.93,0.3],[77.68,-0.09],[77.93,0.0],
  [64.0,1.0],[64.5,0.8],[65.2,0.9],[65.8,0.5],[66.5,0.3],[67.0,0.0],[67.7,0.4],[68.3,0.6],[68.7,0.0],[69.2,0.5],
  [69.8,0.8],[70.4,0.4],[71.0,0.9],[71.5,0.7],[66.0,-0.3],[67.2,-0.2]
];

// ---- styling ----

const FONT = '"Liberation Sans", Arial, Helvetica, sans-serif';
const TICK_LEN = 11;
const RED = '#ff0000';
const BLUE = '#0000ff';
const GRAY = '#808080';

Chart.defaults.font.family = FONT;
Chart.defaults.color = '#000';

const toPoints = rows => rows.map(r => ({ x: r[0], y: r[1] }));

/**
 * gnuplot-like box: full border plus inward ticks on all four sides
 */
const frameBox = {
  id: 'frameBox',
  beforeDatasetsDraw(chart) {
    const { ctx, chartArea: a, scales } = chart;
    ctx.save();
    ctx.strokeStyle = '#000';
    ctx.lineWidth = 2;
    ctx.beginPath();
    scales.x.ticks.forEach(t => {
      const px = Math.round(scales.x.getPixelForValue(t.value));
      ctx.moveTo(px, a.top);
      ctx.lineTo(px, a.top + TICK_LEN);
      ctx.moveTo(px, a.bottom);
      ctx.lineTo(px, a.bottom - TICK_LEN);
    });
    scales.y.ticks.forEach(t => {
      const py = Math.round(scales.y.getPixelForValue(t.value));
      ctx.moveTo(a.left, py);
      ctx.lineTo(a.left + TICK_LEN, py);
      ctx.moveTo(a.right, py);
      ctx.lineTo(a.right - TICK_LEN, py);
    });
    ctx.stroke();
    ctx.strokeRect(a.left, a.top, a.right - a.left, a.bottom - a.top);
    ctx.restore();
  }
};

/**
 * page title, the big heading and the key box
 */
const headerAndKey = {
  id: 'headerAndKey',
  afterDraw(chart) {
    const ctx = chart.ctx;
    ctx.save();

    ctx.fillStyle = '#000';
    ctx.font = '70px ' + FONT;
    ctx.textAlign = 'right';
    ctx.textBaseline = 'alphabetic';
    ctx.fillText('Range Residuals', 128, 28);

    ctx.font = 'bold 32px ' + FONT;
    ctx.textAlign = 'center';
    ctx.textBaseline = 'middle';
    ctx.fillText(titleText, 668, 48);

    // key
    ctx.fillStyle = '#fff';
    ctx.fillRect(1071, 8, 286, 140);
    ctx.strokeStyle = '#000';
    ctx.lineWidth = 2;
    ctx.strokeRect(1071, 8, 286, 140);

    const marks = [
      { style: 'cross', color: RED, radius: 7.5, fill: false },
      { style: 'star', color: BLUE, radius: 8, fill: false },
      { style: 'triangle', color: GRAY, radius: 8.5, fill: true }
    ];
    ctx.font = '43px ' + FONT;
    ctx.textAlign = 'right';
    ctx.textBaseline = 'middle';
    seriesNames.forEach((name, i) => {
      const y = 36 + i * 43;
      ctx.fillStyle = '#000';
      ctx.fillText(name, 1283, y);
      ctx.strokeStyle = marks[i].color;
      ctx.fillStyle = marks[i].color;
      ctx.lineWidth = 1.5;
      Chart.helpers.drawPoint(ctx, {
        pointStyle: marks[i].style,
        radius: marks[i].radius,
        rotation: 0,
        borderWidth: marks[i].fill ? 0 : 1.5
      }, 1312, marks[i].style === 'triangle' ? y + 2 : y);
    });
    ctx.restore();
  }
};

function residualAxis(showTitle) {
  return {
    type: 'linear',
    position: 'left',
    min: -4,
    max: 4,
    afterBuildTicks: s => { s.ticks = residualTicks.map(v => ({ value: v })); },
    afterFit: s => { s.width = 121; },
    grid: { display: false, drawTicks: false },
    border: { display: false },
    ticks: {
      autoSkip: false,
      padding: 20,
      font: { size: 30, weight: 'bold', lineHeight: 1 },
      color: '#000'
    },
    title: {
      display: showTitle,
      text: 'Range Residuals (m)',
      font: { size: 32, weight: 'bold', lineHeight: 1.2 },
      color: '#000',
      padding: { top: 8, bottom: 0 }
    }
  };
}

function bottomAxis(min, max, tickValues, titleText, height, showLabels) {
  return {
    type: 'linear',
    position: 'bottom',
    min: min,
    max: max,
    afterBuildTicks: s => { s.ticks = tickValues.map(v => ({ value: v })); },
    afterFit: s => { s.height = height; },
    grid: { display: false, drawTicks: false },
    border: { display: false },
    ticks: {
      display: showLabels,
      autoSkip: false,
      maxRotation: 0,
      padding: 19,
      labelOffset: 4,
      font: { size: 30, weight: 'bold', lineHeight: 1 },
      color: '#000',
      callback: v => String(v)
    },
    title: {
      display: !!titleText,
      text: titleText || '',
      font: { size: 32, weight: 'bold', lineHeight: 1.2 },
      color: '#000',
      padding: { top: 0, bottom: 0 }
    }
  };
}

function scatterSet(label, rows, style, color, radius, lineWidth, order) {
  return {
    label: label,
    data: toPoints(rows),
    pointStyle: style,
    pointRadius: radius,
    pointHoverRadius: radius,
    pointBorderWidth: lineWidth,
    borderColor: color,
    backgroundColor: color,
    showLine: false,
    clip: false,
    order: order
  };
}

function baseOptions(padding, xAxis, yAxis) {
  return {
    responsive: false,
    animation: false,
    events: [],
    layout: { padding: padding },
    plugins: { legend: { display: false }, tooltip: { enabled: false }, title: { display: false } },
    scales: { x: xAxis, y: yAxis }
  };
}

// top: IGSO and MEO against hours of arc
new Chart(document.getElementById('arcChart'), {
  type: 'scatter',
  data: {
    datasets: [
      scatterSet(seriesNames[2], meoArc, 'triangle', GRAY, 9, 0.5, 0),
      scatterSet(seriesNames[1], igsoArc, 'star', BLUE, 7.5, 1.7, 1)
    ]
  },
  options: baseOptions(
    { left: 0, top: 95, right: 152, bottom: 838 },
    bottomAxis(0, 80, hourTicks, null, 0, false),
    residualAxis(false)
  ),
  plugins: [frameBox, headerAndKey]
});

// middle: GEO against hours of arc
new Chart(document.getElementById('geoChart'), {
  type: 'scatter',
  data: { datasets: [scatterSet(seriesNames[0], geoArc, 'cross', RED, 7, 1.6, 0)] },
  options: baseOptions(
    { left: 0, top: 415, right: 152, bottom: 418 },
    bottomAxis(0, 80, hourTicks, 'Hours of Arc', 100, true),
    residualAxis(true)
  ),
  plugins: [frameBox]
});

// bottom: GEO against elevation
new Chart(document.getElementById('elevChart'), {
  type: 'scatter',
  data: { datasets: [scatterSet(seriesNames[0], geoElev, 'cross', RED, 7, 1.6, 0)] },
  options: baseOptions(
    { left: 0, top: 832, right: 152, bottom: 1 },
    bottomAxis(17.8, 20, elevTicks, 'Elevation From Receiver (degrees)', 100, true),
    residualAxis(false)
  ),
  plugins: [frameBox]
});
</script>
</body>
</html>
